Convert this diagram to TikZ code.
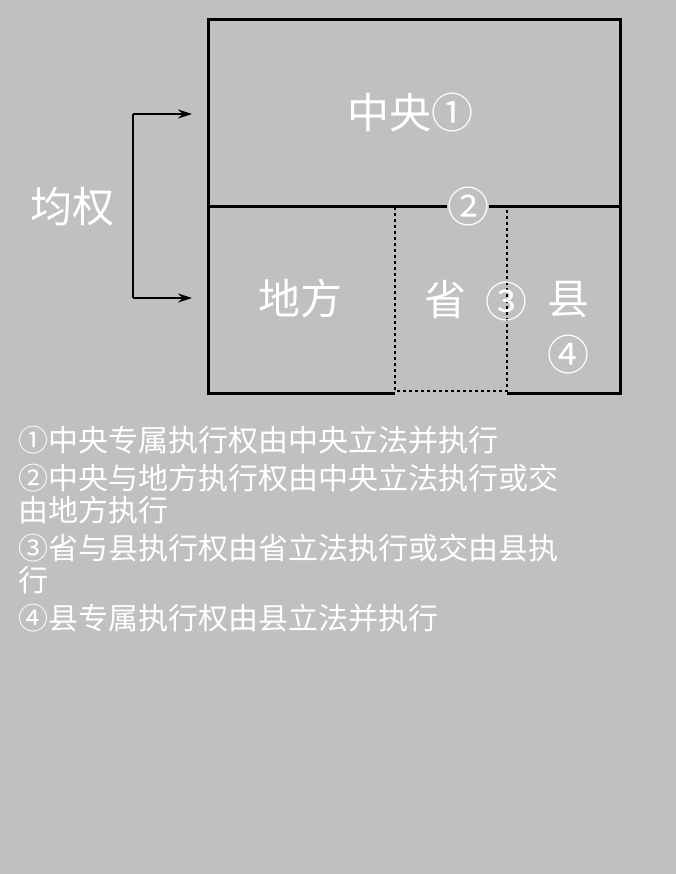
\documentclass[tikz,border=0pt]{standalone}
\usepackage{fontspec}
\setmainfont{Noto Sans CJK SC}
\usetikzlibrary{positioning,arrows.meta}
\definecolor{bg}{HTML}{C0C0C0}
\tikzset{
  big/.style={text=white, font=\fontsize{42}{42}\selectfont, inner sep=0pt},
  frame/.style={line width=3pt},
  dashline/.style={line width=2pt, dashed},
  note/.style={text=white, font=\fontsize{30}{38}\selectfont, align=left, anchor=north west, inner sep=0pt}
}
\begin{document}
\begin{tikzpicture}[x=1pt, y=-1pt, >={Stealth[length=14pt,width=9pt]}]
    \fill[bg] (0,0) rectangle (676,874);
    \useasboundingbox (0,0) rectangle (676,874);
    % frame
    \draw[frame] (395,393) -- (208,393) -- (208,20) -- (620,20) -- (620,393) -- (507,393);
    \draw[frame] (208,207) -- (620,207);
    \draw[dashline] (395,207) -- (395,391) -- (507,391) -- (507,207);
    % labels
    \node[big] (center) at (410,113) {中央①};
    \node[big, fill=bg] (two) at (468,207) {②};
    \node[big] (local) at (300,298) {地方};
    \node[big] (prov) at (445,300) {省};
    \node[big] (three) at (506,302) {③};
    \node[big] (county) at (568,300) {县};
    \node[big] (four) at (568,355) {④};
    \node[big] (jq) at (72,207) {均权};
    % arrows
    \coordinate (up) at (133,114);
    \coordinate (dn) at (133,298);
    \draw[line width=1.5pt] (up) -- (dn);
    \draw[->, line width=1.5pt] (up) -- (192,114);
    \draw[->, line width=1.5pt] (dn) -- (192,298);
    % notes
    \node[note] (notes) at (18,426) {①中央专属执行权由中央立法并执行\\
      ②中央与地方执行权由中央立法执行或交\\[-6pt]
      由地方执行\\
      ③省与县执行权由省立法执行或交由县执\\[-6pt]
      行\\
      ④县专属执行权由县立法并执行};
\end{tikzpicture}
\end{document}
